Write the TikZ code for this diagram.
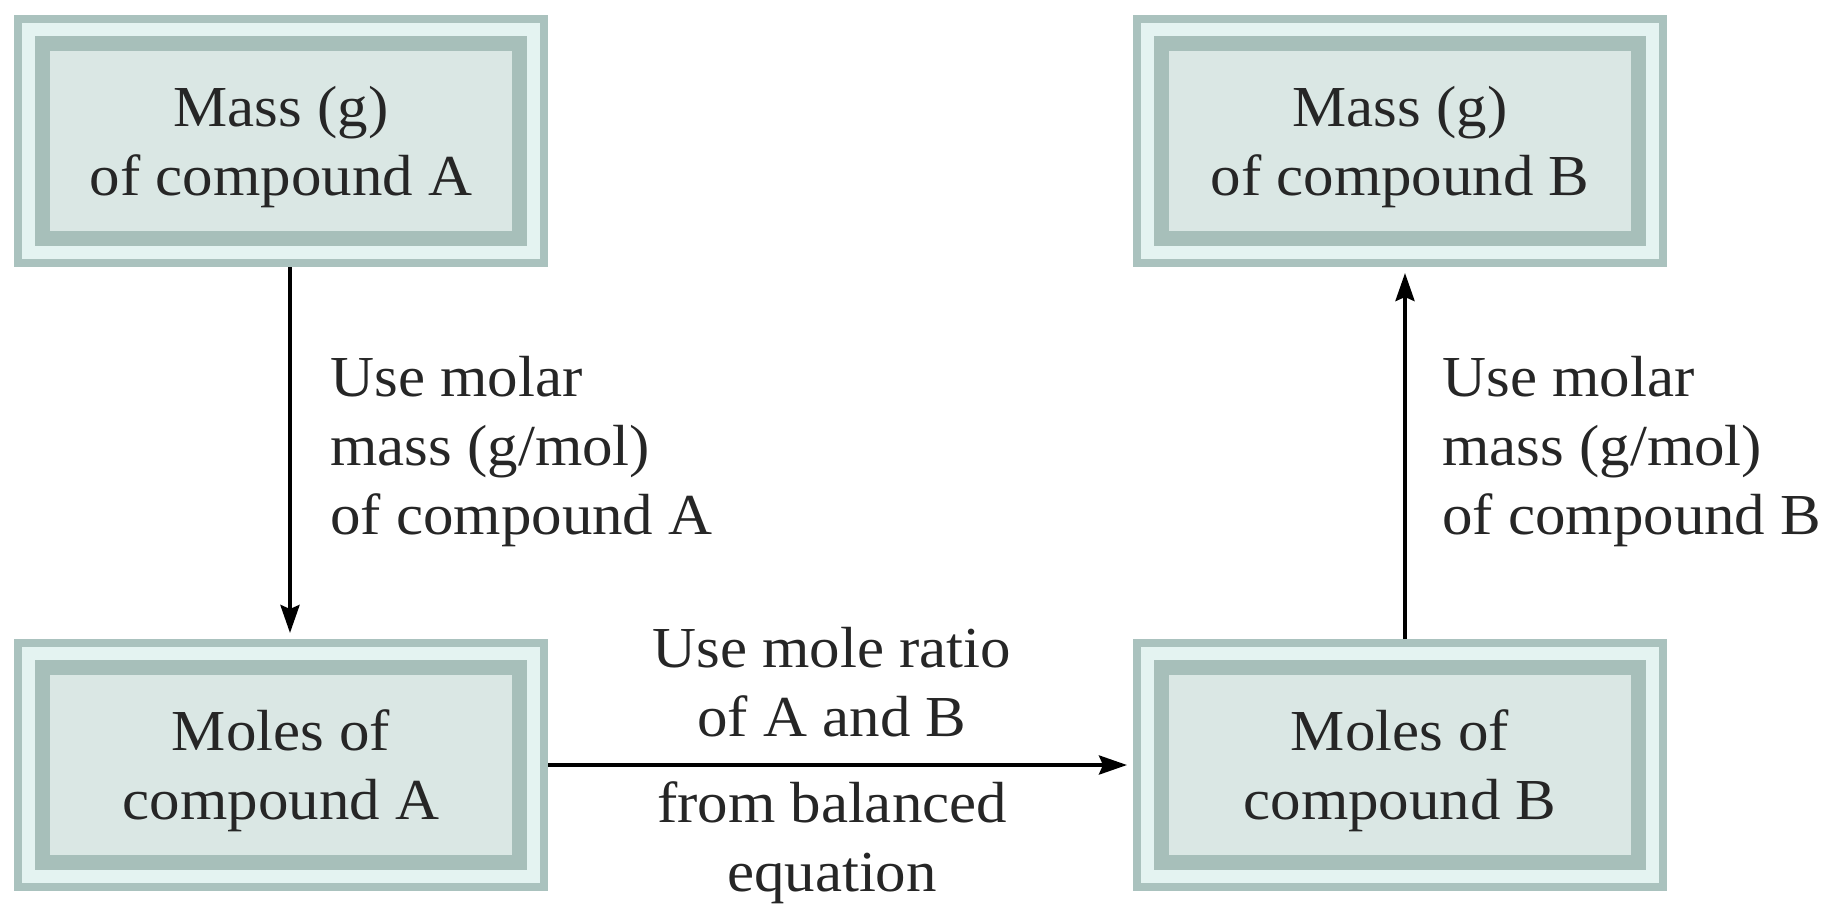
\documentclass[tikz,border=0pt]{standalone}
\usepackage{fontspec}
\setmainfont{Liberation Serif}[FakeStretch=1.05]
\usepackage{tikz}
\usetikzlibrary{arrows.meta}

\definecolor{rimgray}{HTML}{AAC2BE}
\definecolor{bandlight}{HTML}{E4F3F1}
\definecolor{bandgray}{HTML}{A7BFBA}
\definecolor{boxfill}{HTML}{DAE7E4}
\newcommand\labelfont{\fontsize{29}{34.5}\selectfont}

\tikzset{
    molbox/.style={rectangle, minimum width=263pt, minimum height=122pt,
        inner sep=0pt, align=center, font=\labelfont, text=black!85,
        text depth=0pt,
        draw=rimgray, fill=bandlight, line width=4pt,
        path picture={
            \draw[bandgray, fill=boxfill, line width=7.5pt]
                ([shift={(12.25pt,-12.25pt)}]path picture bounding box.north west)
                rectangle ([shift={(-12.25pt,12.25pt)}]path picture bounding box.south east);
        }},
    steplabel/.style={inner sep=0pt, font=\labelfont, text=black!85},
    conv/.style={line width=2pt, -{Stealth[length=14pt, width=9.5pt, inset=2pt]}}
}

\begin{document}
\begin{tikzpicture}[x=0.5pt, y=-0.5pt]
\useasboundingbox (0,0) rectangle (1831,907);

\node[molbox] (massA) at ( 281, 141) {Mass (g)\\of compound A};
\node[molbox] (massB) at (1400, 141) {Mass (g)\\of compound B};
\node[molbox] (molA)  at ( 281, 765) {Moles of\\compound A};
\node[molbox] (molB)  at (1400, 765) {Moles of\\compound B};

\draw[conv, shorten >=3pt] ([xshift=4.5pt]massA.south) -- ([xshift=4.5pt]molA.north);
\draw[conv, shorten >=3pt] (molA.east) -- (molB.west);
\draw[conv, shorten >=3pt] ([xshift=2.5pt]molB.north) -- ([xshift=2.5pt]massB.south);

\node[steplabel, anchor=west, align=left] (useA) at ( 330, 452)
    {Use molar\\mass (g/mol)\\of compound A};
\node[steplabel, anchor=west, align=left] (useB) at (1442, 452)
    {Use molar\\mass (g/mol)\\of compound B};
\node[steplabel, align=center] (ratio) at (832, 682) {Use mole ratio\\of A and B};
\node[steplabel, align=center] (balanced) at (832, 843) {from balanced\\equation};
\end{tikzpicture}
\end{document}
